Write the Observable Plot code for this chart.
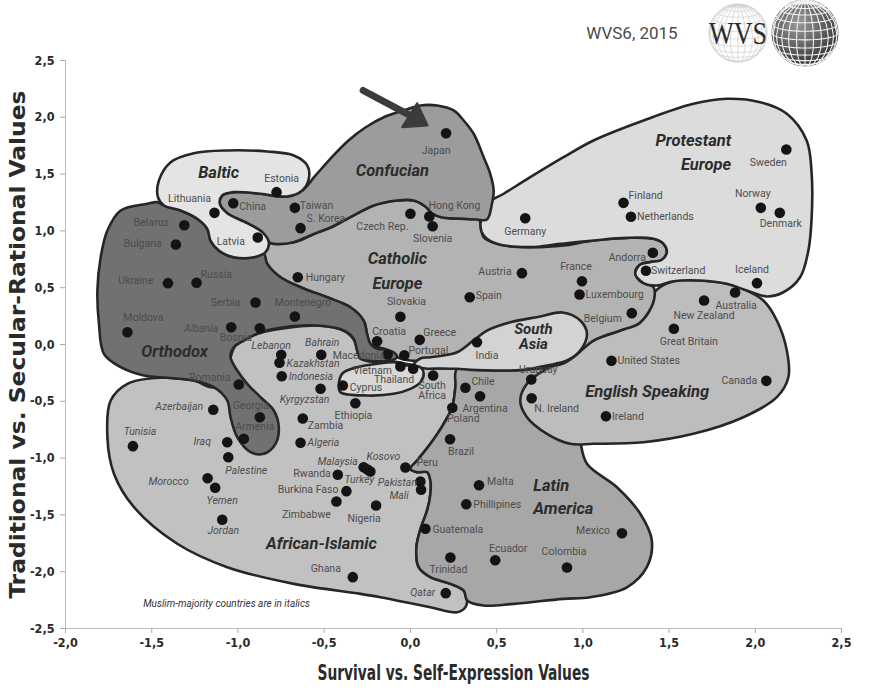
<!DOCTYPE html>
<html>
<head>
<meta charset="utf-8">
<script src="https://cdn.jsdelivr.net/npm/d3@7"></script>
<script src="https://cdn.jsdelivr.net/npm/@observablehq/plot@0.6"></script>
<style>
  body { margin: 0; background: #fff; }
  #chart svg { display: block; }
</style>
</head>
<body>
<div id="chart"></div>
<script>
// ---------------- DATA ----------------
const countryNames = ["Japan","Estonia","Lithuania","China","Taiwan","S. Korea","Latvia","Belarus","Bulgaria","Ukraine","Russia","Hungary","Serbia","Montenegro","Moldova","Albania","Bosnia","Czech Rep.","Hong Kong","Slovenia","Germany","Austria","Spain","Slovakia","Croatia","Greece","Macedonia","Portugal","Vietnam","Thailand","Cyprus","South Africa","India","Chile","Argentina","Poland","Uruguay","N. Ireland","Ethiopia","Brazil","Lebanon","Kazakhstan","Bahrain","Indonesia","Kyrgyzstan","Romania","Azerbaijan","Georgia","Armenia","Zambia","Tunisia","Iraq","Palestine","Algeria","Morocco","Yemen","Jordan","Rwanda","Burkina Faso","Zimbabwe","Malaysia","Kosovo","Turkey","Nigeria","Peru","Pakistan","Mali","Malta","Phillipines","Guatemala","Ecuador","Colombia","Trinidad","Qatar","Ghana","Mexico","Canada","Ireland","United States","Great Britain","New Zealand","Australia","Iceland","Switzerland","Andorra","Belgium","France","Luxembourg","Finland","Netherlands","Norway","Denmark","Sweden"];

// Survival vs. Self-Expression (x)
const survivalSelfExpression = [0.207,-0.776,-1.136,-1.027,-0.670,-0.637,-0.885,-1.311,-1.360,-1.406,-1.240,-0.653,-0.898,-0.670,-1.641,-1.039,-0.873,0.000,0.110,0.129,0.666,0.647,0.344,-0.058,-0.193,0.054,-0.132,-0.035,-0.058,0.016,-0.392,0.132,0.386,0.319,0.404,0.243,0.701,0.703,-0.319,0.230,-0.749,-0.759,-0.517,-0.746,-0.521,-0.995,-1.143,-0.873,-0.966,-0.624,-1.609,-1.062,-1.056,-0.637,-1.176,-1.132,-1.091,-0.421,-0.371,-0.429,-0.271,-0.232,-0.249,-0.199,-0.029,0.058,0.062,0.398,0.324,0.087,0.492,0.908,0.232,0.205,-0.334,1.227,2.064,1.134,1.166,1.528,1.703,1.883,2.010,1.366,1.406,1.284,0.995,0.981,1.236,1.279,2.032,2.142,2.180];

// Traditional vs. Secular-Rational (y)
const traditionalSecular = [1.860,1.341,1.159,1.244,1.203,1.024,0.942,1.050,0.880,0.540,0.543,0.592,0.370,0.246,0.108,0.152,0.143,1.151,1.127,1.041,1.112,0.628,0.416,0.244,0.029,0.041,-0.088,-0.094,-0.194,-0.214,-0.361,-0.273,0.020,-0.381,-0.455,-0.557,-0.308,-0.473,-0.517,-0.834,-0.091,-0.161,-0.091,-0.279,-0.390,-0.352,-0.575,-0.640,-0.830,-0.651,-0.895,-0.860,-0.992,-0.865,-1.177,-1.261,-1.543,-1.147,-1.291,-1.382,-1.080,-1.118,-1.100,-1.417,-1.083,-1.206,-1.279,-1.239,-1.406,-1.622,-1.899,-1.963,-1.875,-2.189,-2.048,-1.661,-0.320,-0.631,-0.143,0.138,0.387,0.458,0.540,0.649,0.807,0.276,0.557,0.440,1.247,1.124,1.203,1.159,1.717];

const muslimMajority = ["Albania","Lebanon","Kazakhstan","Bahrain","Indonesia","Kyrgyzstan","Azerbaijan","Tunisia","Iraq","Palestine","Algeria","Morocco","Yemen","Jordan","Malaysia","Kosovo","Turkey","Pakistan","Mali","Qatar"];

const xTicks = [-2,-1.5,-1,-0.5,0,0.5,1,1.5,2,2.5];
const yTicks = [-2.5,-2,-1.5,-1,-0.5,0,0.5,1,1.5,2,2.5];

// Cultural zones (outline vertices, in data units)
const africanIslamicZone = [[-1.738,-0.493],[-1.641,-0.346],[-1.449,-0.293],[-1.256,-0.317],[-1.140,-0.376],[-1.066,-0.246],[-1.043,-0.112],[-1.014,-0.009],[-0.939,0.062],[-0.840,0.114],[-0.695,0.150],[-0.539,0.167],[-0.388,0.123],[-0.324,0.035],[-0.301,-0.079],[-0.261,-0.141],[-0.098,-0.150],[0,-0.176],[0.174,-0.211],[0.271,-0.214],[0.261,-0.376],[0.242,-0.552],[0.193,-0.698],[0.116,-0.874],[0.039,-1.021],[0,-1.094],[0.039,-1.124],[0.097,-1.124],[0.116,-1.197],[0.116,-1.314],[0.097,-1.461],[0.062,-1.608],[0.035,-1.784],[0.048,-1.960],[0.116,-2.048],[0.232,-2.107],[0.309,-2.166],[0.329,-2.254],[0.319,-2.313],[0.271,-2.357],[0.116,-2.313],[-0.174,-2.225],[-0.290,-2.195],[-0.676,-2.107],[-1.062,-1.960],[-1.352,-1.754],[-1.603,-1.432],[-1.719,-1.138],[-1.757,-0.816]];

const latinAmericaZone = [[0.271,-0.214],[0.502,-0.229],[0.753,-0.211],[0.898,-0.176],[0.956,-0.493],[0.985,-0.845],[1.024,-1.050],[1.198,-1.256],[1.333,-1.490],[1.400,-1.725],[1.371,-1.960],[1.256,-2.137],[1.043,-2.225],[0.888,-2.239],[0.599,-2.283],[0.425,-2.298],[0.329,-2.254],[0.309,-2.166],[0.232,-2.107],[0.116,-2.048],[0.048,-1.960],[0.035,-1.784],[0.062,-1.608],[0.097,-1.461],[0.116,-1.314],[0.116,-1.197],[0.097,-1.124],[0.039,-1.124],[0,-1.094],[0.039,-1.021],[0.116,-0.874],[0.193,-0.698],[0.242,-0.552],[0.261,-0.376]];

const englishSpeakingZone = [[1.414,0.458],[1.525,0.557],[1.680,0.563],[1.835,0.534],[1.951,0.475],[2.047,0.387],[2.125,0.211],[2.183,-0.053],[2.192,-0.288],[2.125,-0.464],[1.931,-0.640],[1.641,-0.786],[1.352,-0.860],[1.062,-0.874],[0.927,-0.874],[0.792,-0.786],[0.676,-0.640],[0.637,-0.493],[0.676,-0.346],[0.772,-0.229],[0.904,-0.141],[1.062,0.035],[1.217,0.123],[1.323,0.194],[1.381,0.284]];

const catholicEuropeZone = [[-0.850,0.798],[-0.821,0.886],[-0.676,0.901],[-0.560,0.973],[-0.463,1.030],[-0.348,1.121],[-0.213,1.224],[-0.077,1.268],[0.019,1.268],[0.087,1.215],[0.127,1.153],[0.185,1.118],[0.271,1.109],[0.396,1.100],[0.425,0.945],[0.502,0.886],[0.695,0.857],[0.888,0.872],[1.062,0.916],[1.256,0.939],[1.410,0.930],[1.468,0.886],[1.487,0.813],[1.458,0.746],[1.390,0.725],[1.333,0.704],[1.304,0.636],[1.333,0.557],[1.410,0.504],[1.414,0.402],[1.381,0.284],[1.323,0.182],[1.217,0.123],[1.062,0.035],[0.946,-0.112],[0.869,-0.176],[0.521,-0.176],[0.290,-0.158],[0.116,-0.141],[0,-0.141],[-0.077,-0.112],[-0.135,-0.047],[-0.232,0.006],[-0.271,0.211],[-0.348,0.328],[-0.483,0.416],[-0.637,0.504],[-0.753,0.592],[-0.830,0.710]];

const protestantEuropeZone = [[0.406,1.048],[0.444,1.239],[0.541,1.327],[0.695,1.473],[0.888,1.649],[1.062,1.796],[1.352,1.972],[1.641,2.119],[1.835,2.163],[2.028,2.133],[2.183,2.031],[2.298,1.796],[2.327,1.503],[2.327,1.121],[2.308,0.827],[2.260,0.592],[2.163,0.460],[2.067,0.423],[1.951,0.475],[1.835,0.534],[1.680,0.563],[1.525,0.557],[1.429,0.519],[1.352,0.540],[1.304,0.622],[1.333,0.704],[1.390,0.725],[1.458,0.746],[1.487,0.813],[1.468,0.886],[1.410,0.930],[1.256,0.939],[1.062,0.916],[0.869,0.886],[0.695,0.857],[0.502,0.886],[0.425,0.960]];

const confucianZone = [[-0.039,2.060],[0.058,2.104],[0.155,2.104],[0.251,2.060],[0.309,1.972],[0.367,1.855],[0.425,1.649],[0.463,1.503],[0.483,1.356],[0.473,1.239],[0.444,1.100],[0.386,1.100],[0.271,1.109],[0.185,1.118],[0.127,1.153],[0.087,1.215],[0.019,1.268],[-0.077,1.268],[-0.213,1.224],[-0.348,1.121],[-0.463,1.030],[-0.560,0.973],[-0.676,0.901],[-0.792,0.886],[-0.821,0.901],[-0.859,0.989],[-0.946,1.068],[-1.062,1.156],[-1.105,1.239],[-1.091,1.312],[-1.024,1.341],[-0.869,1.327],[-0.714,1.303],[-0.627,1.356],[-0.550,1.488],[-0.463,1.637],[-0.359,1.796],[-0.261,1.910],[-0.145,2.007]];

const orthodoxZone = [[-1.468,1.253],[-1.526,1.239],[-1.680,1.180],[-1.757,1.004],[-1.796,0.769],[-1.815,0.475],[-1.806,0.182],[-1.777,-0.082],[-1.680,-0.200],[-1.545,-0.273],[-1.410,-0.293],[-1.256,-0.317],[-1.140,-0.376],[-1.062,-0.493],[-1.043,-0.640],[-1.004,-0.816],[-0.927,-0.948],[-0.850,-0.962],[-0.782,-0.874],[-0.763,-0.728],[-0.792,-0.581],[-0.869,-0.464],[-0.946,-0.346],[-1.004,-0.229],[-1.043,-0.112],[-1.024,-0.024],[-0.946,0.050],[-0.869,0.108],[-0.734,0.152],[-0.541,0.167],[-0.386,0.123],[-0.329,0.050],[-0.309,-0.053],[-0.290,-0.126],[-0.193,-0.147],[-0.116,-0.141],[-0.077,-0.112],[-0.097,-0.068],[-0.135,-0.047],[-0.193,-0.038],[-0.232,0.006],[-0.251,0.094],[-0.271,0.211],[-0.348,0.328],[-0.483,0.416],[-0.637,0.504],[-0.753,0.592],[-0.830,0.710],[-0.850,0.798],[-0.908,0.768],[-1.024,0.768],[-1.111,0.827],[-1.159,0.915],[-1.178,1.018],[-1.236,1.107],[-1.333,1.180],[-1.429,1.224]];

const balticZone = [[-1.458,1.444],[-1.390,1.605],[-1.256,1.684],[-1.062,1.708],[-0.830,1.699],[-0.676,1.664],[-0.598,1.576],[-0.589,1.459],[-0.627,1.356],[-0.714,1.303],[-0.869,1.327],[-1.024,1.341],[-1.091,1.312],[-1.105,1.239],[-1.062,1.156],[-0.946,1.068],[-0.859,0.989],[-0.821,0.901],[-0.840,0.813],[-0.908,0.768],[-1.024,0.768],[-1.111,0.827],[-1.159,0.915],[-1.178,1.018],[-1.236,1.107],[-1.333,1.180],[-1.429,1.224],[-1.464,1.297]];

const southAsiaZone = [[0.017,-0.185],[0.058,-0.123],[0.116,-0.112],[0.271,-0.068],[0.365,0.035],[0.444,0.123],[0.579,0.196],[0.753,0.246],[0.881,0.282],[0.985,0.211],[1.024,0.094],[0.985,-0.053],[0.908,-0.141],[0.792,-0.185],[0.656,-0.223],[0.502,-0.229],[0.348,-0.223],[0.271,-0.214],[0.174,-0.211],[0.087,-0.211]];

const cyprusVietnamZone = [[-0.415,-0.361],[-0.396,-0.258],[-0.309,-0.200],[-0.193,-0.170],[-0.097,-0.156],[-0.019,-0.185],[0.058,-0.200],[0.077,-0.258],[0.058,-0.332],[0,-0.390],[-0.097,-0.434],[-0.251,-0.449],[-0.406,-0.420]];

const zoneNames = ["Confucian","Baltic","Catholic\nEurope","Protestant\nEurope","Orthodox","South\nAsia","English Speaking","Latin\nAmerica","African-Islamic"];
const zoneLabelX = [-0.104,-1.112,-0.075,1.860,-1.367,0.713,1.373,0.713,-0.516];
const zoneLabelY = [1.532,1.514,0.670,1.712,-0.062,0.070,-0.414,-1.325,-1.752];

// Arrow pointing at Japan
const arrowShaft = [{x1:-0.274, y1:2.236, x2:-0.005, y2:2.019}];
const arrowHead = [[0.039,2.124],[0.100,1.928],[-0.048,1.913]];

const noteText = ["Muslim-majority countries are in italics"];
const noteX = [-1.066], noteY = [-2.280];

const xTitle = "Survival vs. Self-Expression Values";
const yTitle = "Traditional vs. Secular-Rational Values";

// ---------------- LAYOUT (label placement, px offsets from dot) ----------------
const labelLayout = {
 "Japan":["middle",-10,17],"Estonia":["middle",5,-14],"Lithuania":["middle",-25,-14],"China":["start",6,3],
 "Taiwan":["start",5,-2],"S. Korea":["start",6,-10],"Latvia":["middle",-27,4],"Belarus":["middle",-33,-3],
 "Bulgaria":["middle",-33,-1],"Ukraine":["middle",-32,-3],"Russia":["start",4,-8],"Hungary":["start",8,0],
 "Serbia":["middle",-30,0],"Montenegro":["middle",8,-14],"Moldova":["middle",16,-15],"Albania":["middle",-30,1],
 "Bosnia":["middle",-24,9],"Czech Rep.":["middle",-28,13],"Hong Kong":["middle",25,-11],"Slovenia":["middle",0,12],
 "Germany":["middle",0,13],"Austria":["middle",-27,-2],"Spain":["start",6,-2],"Slovakia":["middle",6,-15],
 "Croatia":["middle",12,-10],"Greece":["middle",20,-7],"Macedonia":["middle",-29,1],"Portugal":["middle",24,-5],
 "Vietnam":["middle",-28,4],"Thailand":["middle",-19,11],"Cyprus":["start",7,2],"South Africa":["middle",-1,15,"South\nAfrica"],
 "India":["middle",10,13],"Chile":["start",6,-6],"Argentina":["middle",5,12],"Poland":["middle",11,11],
 "Uruguay":["middle",7,-10],"N. Ireland":["middle",25,10],"Ethiopia":["middle",-2,12],"Brazil":["middle",11,12],
 "Lebanon":["middle",-10,-9],"Kazakhstan":["start",7,1],"Bahrain":["middle",1,-12],"Indonesia":["start",7,0],
 "Kyrgyzstan":["middle",-16,11],"Romania":["middle",-29,-7],"Azerbaijan":["middle",-34,-3],"Georgia":["middle",-9,-12],
 "Armenia":["middle",11,-12],"Zambia":["start",5,7],"Tunisia":["middle",7,-15],"Iraq":["middle",-25,-1],
 "Palestine":["middle",18,13],"Algeria":["start",7,0],"Morocco":["middle",-39,3],"Yemen":["middle",7,13],
 "Jordan":["middle",1,11],"Rwanda":["end",-7,-1],"Burkina Faso":["end",-8,-2],"Zimbabwe":["middle",-30,13],
 "Malaysia":["middle",-26,-6],"Kosovo":["middle",13,-15],"Turkey":["middle",-8,10],"Nigeria":["middle",-12,13],
 "Peru":["start",11,-5],"Pakistan":["middle",-23,1],"Mali":["middle",-22,6],"Malta":["start",8,-4],
 "Phillipines":["start",7,0],"Guatemala":["start",7,1],"Ecuador":["middle",13,-12],"Colombia":["middle",-3,-16],
 "Trinidad":["middle",-2,12],"Qatar":["middle",-23,-1],"Ghana":["middle",-27,-9],"Mexico":["middle",-29,-3],
 "Canada":["middle",-27,0],"Ireland":["start",6,0],"United States":["start",6,0],"Great Britain":["middle",15,13],
 "New Zealand":["middle",0,15],"Australia":["middle",1,13],"Iceland":["middle",-5,-14],"Switzerland":["start",5,0],
 "Andorra":["end",-7,5],"Belgium":["middle",-29,5],"France":["middle",-6,-15],"Luxembourg":["start",6,0],
 "Finland":["start",5,-7],"Netherlands":["start",6,0],"Norway":["middle",-8,-14],"Denmark":["middle",1,11],
 "Sweden":["middle",-18,13]
};

const zoneStyle = [
  {pts: africanIslamicZone, fill: "#c1c1c1"},
  {pts: latinAmericaZone, fill: "#a7a7a7"},
  {pts: englishSpeakingZone, fill: "#bdbdbd"},
  {pts: catholicEuropeZone, fill: "#b3b3b3"},
  {pts: protestantEuropeZone, fill: "#dcdcdc"},
  {pts: confucianZone, fill: "#9c9c9c"},
  {pts: orthodoxZone, fill: "#717171"},
  {pts: balticZone, fill: "#e4e4e4"},
  {pts: southAsiaZone, fill: "#d3d3d3"},
  {pts: cyprusVietnamZone, fill: "#d8d8d8"}
];
const zoneLabelStyle = [
  {anchor:"middle", lh:1, fs:16.5}, {anchor:"middle", lh:1, fs:16.5}, {anchor:"middle", lh:1.5, fs:16.5},
  {anchor:"end", lh:1.45, fs:16.5}, {anchor:"middle", lh:1, fs:16.5}, {anchor:"middle", lh:1.0, fs:15},
  {anchor:"middle", lh:1, fs:16.5}, {anchor:"start", lh:1.42, fs:16.5}, {anchor:"middle", lh:1, fs:16.5}
];

// ---------------- BUILD ----------------
const W = 880, H = 692, ML = 65, MR = 39, MT = 60, MB = 64;
const xDomain = [-2, 2.5], yDomain = [-2.5, 2.5];
const kx = (xDomain[1] - xDomain[0]) / (W - ML - MR);
const ky = (yDomain[1] - yDomain[0]) / (H - MT - MB);

const rows = countryNames.map((name, i) => {
  const [anchor, dx, dy, txt] = labelLayout[name] || ["start", 6, 0];
  return {
    name, label: txt || name,
    x: survivalSelfExpression[i], y: traditionalSecular[i],
    italic: muslimMajority.includes(name), anchor,
    lx: survivalSelfExpression[i] + dx * kx,
    ly: traditionalSecular[i] - dy * ky
  };
});

const fmt = d => d.toFixed(1).replace(".", ",");
const labelFont = "Roboto, 'Open Sans', sans-serif";
const axisFont = "'Liberation Sans Narrow', 'DejaVu Sans Condensed', 'Roboto Condensed', 'Liberation Sans', sans-serif";

const marks = [];
zoneStyle.forEach(z => {
  marks.push(Plot.line(z.pts, {
    x: d => d[0], y: d => d[1], curve: "catmull-rom-closed",
    fill: z.fill, stroke: "#262626", strokeWidth: 2.6, strokeLinejoin: "round"
  }));
});
marks.push(Plot.ruleX([xDomain[0]], {stroke: "#bdbdbd", strokeWidth: 1}));
marks.push(Plot.ruleY([yDomain[0]], {stroke: "#bdbdbd", strokeWidth: 1}));
marks.push(Plot.axisX({ticks: xTicks, tickFormat: fmt, tickSize: 5, tickPadding: 5, label: null,
  stroke: "#aaaaaa", fill: "#2a2a2a", fontSize: 12.5, fontWeight: "bold", fontFamily: axisFont}));
marks.push(Plot.axisY({ticks: yTicks, tickFormat: fmt, tickSize: 5, tickPadding: 6, label: null,
  stroke: "#aaaaaa", fill: "#2a2a2a", fontSize: 12.5, fontWeight: "bold", fontFamily: axisFont}));
marks.push(Plot.dot(rows, {x: "x", y: "y", r: 5.3, fill: "#141414", stroke: "none"}));
["start","middle","end"].forEach(anchor => {
  [false, true].forEach(it => {
    const sub = rows.filter(r => r.anchor === anchor && r.italic === it);
    if (!sub.length) return;
    marks.push(Plot.text(sub, {x: "lx", y: "ly", text: "label", textAnchor: anchor,
      fontStyle: it ? "italic" : "normal", fill: "#4c4c4c", fontSize: 10.5,
      fontFamily: labelFont, lineHeight: 1.0}));
  });
});
zoneNames.forEach((nm, i) => {
  marks.push(Plot.text([nm], {x: () => zoneLabelX[i], y: () => zoneLabelY[i], text: d => d,
    textAnchor: zoneLabelStyle[i].anchor, lineHeight: zoneLabelStyle[i].lh,
    fontSize: zoneLabelStyle[i].fs, fontWeight: "bold", fontStyle: "italic", fill: "#2c2c2c", fontFamily: labelFont}));
});
marks.push(Plot.link(arrowShaft, {x1: "x1", y1: "y1", x2: "x2", y2: "y2", stroke: "#3b3b3b", strokeWidth: 7, strokeLinecap: "round"}));
marks.push(Plot.line(arrowHead, {x: d => d[0], y: d => d[1], curve: "linear-closed", fill: "#3b3b3b", stroke: "#3b3b3b", strokeWidth: 2, strokeLinejoin: "round"}));
marks.push(Plot.text(noteText, {x: () => noteX[0], y: () => noteY[0], text: d => d, fontStyle: "italic",
  fontSize: 10, fill: "#333", fontFamily: labelFont}));
marks.push(Plot.text([xTitle], {frameAnchor: "bottom", dy: 51, text: d => d,
  textAnchor: "middle", fontSize: 21, fontWeight: "bold", fill: "#2a2a2a", fontFamily: axisFont}));
marks.push(Plot.text([yTitle], {frameAnchor: "left", dx: -47, rotate: -90, text: d => d,
  textAnchor: "middle", fontSize: 21, fontWeight: "bold", fill: "#2a2a2a", fontFamily: axisFont}));

const plot = Plot.plot({
  width: W, height: H,
  marginLeft: ML, marginRight: MR, marginTop: MT, marginBottom: MB,
  x: {domain: xDomain}, y: {domain: yDomain},
  style: {background: "#ffffff", fontFamily: labelFont, fontSize: "11px", color: "#333"},
  marks
});

// fit axis titles to the reference's text extents
const svg = d3.select(plot);
svg.selectAll("text").each(function () {
  const t = this.textContent;
  if (t === xTitle) { this.setAttribute("textLength", "272"); this.setAttribute("lengthAdjust", "spacingAndGlyphs"); }
  if (t === yTitle) { this.setAttribute("textLength", "508"); this.setAttribute("lengthAdjust", "spacingAndGlyphs"); }
});

// ---------------- LOGO (decoration above the frame) ----------------
const defs = svg.append("defs");
const grad = defs.append("radialGradient").attr("id", "globeGrad").attr("cx", "40%").attr("cy", "35%").attr("r", "70%");
grad.append("stop").attr("offset", "0%").attr("stop-color", "#9a9a9a");
grad.append("stop").attr("offset", "60%").attr("stop-color", "#5a5a5a");
grad.append("stop").attr("offset", "100%").attr("stop-color", "#2e2e2e");
const logo = svg.append("g");
logo.append("text").attr("x", 632).attr("y", 39).attr("text-anchor", "middle")
  .attr("fill", "#4a4a4a").style("font", "17px Roboto, sans-serif").text("WVS6, 2015");
const grat = d3.geoGraticule().step([15, 15])();
const p1 = d3.geoOrthographic().scale(29).translate([738, 33]).rotate([0, -12]);
const g1 = d3.geoPath(p1);
logo.append("path").datum({type: "Sphere"}).attr("d", g1).attr("fill", "#fff").attr("stroke", "#cfcfcf").attr("stroke-width", 0.9);
logo.append("path").datum(grat).attr("d", g1).attr("fill", "none").attr("stroke", "#d2d2d2").attr("stroke-width", 0.8);
const p2 = d3.geoOrthographic().scale(33).translate([805, 33]).rotate([0, -12]);
const g2 = d3.geoPath(p2);
logo.append("path").datum({type: "Sphere"}).attr("d", g2).attr("fill", "url(#globeGrad)").attr("stroke", "#444").attr("stroke-width", 0.8);
logo.append("path").datum(grat).attr("d", g2).attr("fill", "none").attr("stroke", "#f2f2f2").attr("stroke-width", 1.1);
logo.append("text").attr("x", 738).attr("y", 44).attr("text-anchor", "middle")
  .attr("textLength", 58).attr("lengthAdjust", "spacingAndGlyphs")
  .attr("fill", "#2a2a2a").style("font", "31px 'Liberation Serif', 'DejaVu Serif', serif").text("WVS");

document.getElementById("chart").appendChild(plot);
</script>
</body>
</html>
